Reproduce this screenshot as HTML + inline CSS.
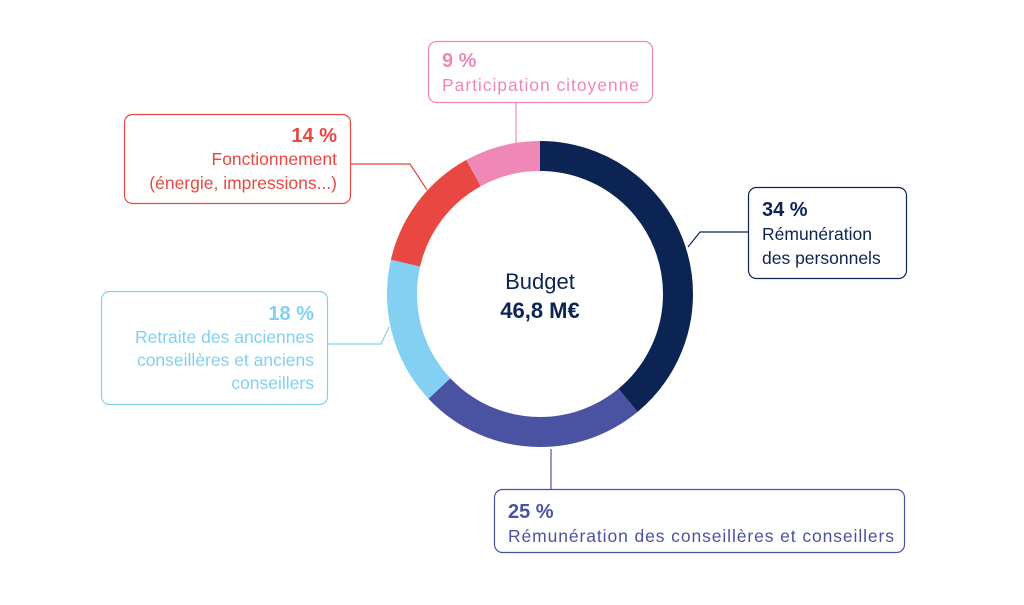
<!DOCTYPE html>
<html><head><meta charset="utf-8"><style>
html,body{margin:0;padding:0;background:#fff;}
svg{display:block;font-family:"Liberation Sans",sans-serif;}
</style></head><body>
<svg width="1024" height="605" viewBox="0 0 1024 605" xmlns="http://www.w3.org/2000/svg">
<g transform="rotate(-90 540 294)" fill="none" stroke-width="30">
<circle cx="540" cy="294" r="138" pathLength="100" stroke="#0b2454" stroke-dasharray="39 61" stroke-dashoffset="0"/>
<circle cx="540" cy="294" r="138" pathLength="100" stroke="#4a52a2" stroke-dasharray="24 76" stroke-dashoffset="-39"/>
<circle cx="540" cy="294" r="138" pathLength="100" stroke="#83d0f3" stroke-dasharray="15.6 84.4" stroke-dashoffset="-63"/>
<circle cx="540" cy="294" r="138" pathLength="100" stroke="#e84841" stroke-dasharray="13.4 86.6" stroke-dashoffset="-78.6"/>
<circle cx="540" cy="294" r="138" pathLength="100" stroke="#ef88b6" stroke-dasharray="8 92" stroke-dashoffset="-92"/>
</g>
<text x="540" y="289" text-anchor="middle" font-size="22" fill="#0b2454">Budget</text>
<text x="540" y="318" text-anchor="middle" font-size="22" font-weight="bold" fill="#0b2454">46,8 M€</text>

<g fill="none" stroke-width="1.2">
<polyline points="748,232 700,232 688,247" stroke="#0b2454"/>
<polyline points="551,449 551,489" stroke="#4a52a2"/>
<polyline points="328,344 381,344 389,327" stroke="#83d0f3"/>
<polyline points="351,164 410,164 427,190" stroke="#e84841"/>
<polyline points="516,102 516,143" stroke="#ef88b6"/>
<rect x="748.5" y="187.5" width="158" height="91" rx="8" stroke="#0b2454"/>
<rect x="494.5" y="489.5" width="410" height="63" rx="8" stroke="#4a52a2"/>
<rect x="101.5" y="291.5" width="226" height="113" rx="8" stroke="#83d0f3"/>
<rect x="124.5" y="114.5" width="226" height="89" rx="8" stroke="#e84841"/>
<rect x="428.5" y="41.5" width="224" height="61" rx="8" stroke="#ef88b6"/>
</g>

<g font-size="17.5">
<text x="762" y="216" font-size="20" font-weight="bold" fill="#0b2454">34 %</text>
<text x="762" y="240" fill="#0b2454">Rémunération</text>
<text x="762" y="264" fill="#0b2454">des personnels</text>

<text x="508" y="518" font-size="20" font-weight="bold" fill="#4a52a2">25 %</text>
<text x="508" y="542" fill="#4a52a2" textLength="386">Rémunération des conseillères et conseillers</text>

<g text-anchor="end" fill="#83d0f3">
<text x="314" y="320" font-size="20" font-weight="bold">18 %</text>
<text x="314" y="343">Retraite des anciennes</text>
<text x="314" y="366">conseillères et anciens</text>
<text x="314" y="389">conseillers</text>
</g>
<g text-anchor="end" fill="#e84841">
<text x="337" y="142" font-size="20" font-weight="bold">14 %</text>
<text x="337" y="165">Fonctionnement</text>
<text x="337" y="189">(énergie, impressions...)</text>
</g>
<text x="442" y="67" font-size="20" font-weight="bold" fill="#ef88b6">9 %</text>
<text x="442" y="91" fill="#ef88b6" textLength="197">Participation citoyenne</text>
</g>
</svg>
</body></html>
